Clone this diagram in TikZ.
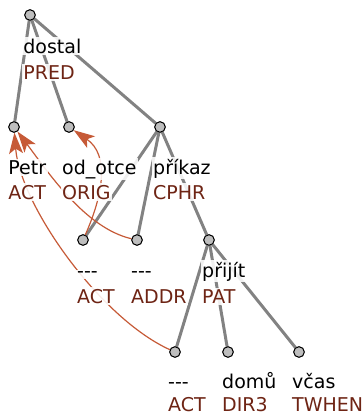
\documentclass[tikz,border=0pt]{standalone}
\usepackage{fontspec}
\setmainfont{DejaVu Sans}
\usetikzlibrary{arrows.meta}
\definecolor{edgegray}{RGB}{130,130,130}
\definecolor{nodegray}{RGB}{190,190,190}
\definecolor{functor}{RGB}{110,36,20}
\definecolor{coref}{RGB}{198,90,55}
\begin{document}
\begin{tikzpicture}[x=1pt,y=-1pt,
  tnode/.style={circle,draw=black,fill=nodegray,line width=0.9pt,minimum size=10.5pt,inner sep=0pt},
  edge/.style={edgegray,line width=3pt},
  corefarrow/.style={coref,line width=1.2pt,-{Stealth[length=21pt,width=14pt,inset=5pt]}},
  lbl/.style={anchor=base west,inner sep=1.5pt,fill=white,fill opacity=0.88,text opacity=1,font=\fontsize{19}{22}\selectfont},
  word/.style={lbl,text=black},
  func/.style={lbl,text=functor}]
\useasboundingbox (0,0) rectangle (364,415);
% tree nodes
\node[tnode] (dostal) at (30,15) {};
\node[tnode] (petr) at (14,127) {};
\node[tnode] (odotce) at (69,127) {};
\node[tnode] (prikaz) at (160,127) {};
\node[tnode] (actgen) at (83,240) {};
\node[tnode] (addr) at (137,240) {};
\node[tnode] (prijit) at (209,240) {};
\node[tnode] (actbot) at (175,352) {};
\node[tnode] (domu) at (228,352) {};
\node[tnode] (vcas) at (299,352) {};
% edges
\draw[edge] (dostal.center) -- (petr.center);
\draw[edge] (dostal.center) -- (odotce.center);
\draw[edge] (dostal.center) -- (prikaz.center);
\draw[edge] (prikaz.center) -- (actgen.center);
\draw[edge] (prikaz.center) -- (addr.center);
\draw[edge] (prikaz.center) -- (prijit.center);
\draw[edge] (prijit.center) -- (actbot.center);
\draw[edge] (prijit.center) -- (domu.center);
\draw[edge] (prijit.center) -- (vcas.center);
% coreference arrows
\draw[corefarrow] (actgen) .. controls (103,195) and (110,155) .. (odotce);
\draw[corefarrow] (addr) .. controls (85,228) and (48,172) .. (petr);
\draw[corefarrow] (actbot) .. controls (100,318) and (20,205) .. (petr);
% redraw node circles on top
\foreach \n in {dostal,petr,odotce,prikaz,actgen,addr,prijit,actbot,domu,vcas}
  \node[tnode] at (\n.center) {};
% labels
\node[word] (l1) at (21.7,53) {dostal};
\node[func] (f1) at (21.7,79) {PRED};
\node[word] (l2) at (6.7,174) {Petr};
\node[func] (f2) at (6.7,199) {ACT};
\node[word] (l3) at (60.5,174) {od\_otce};
\node[func] (f3) at (60.5,199) {ORIG};
\node[word] (l4) at (151.5,174) {příkaz};
\node[func] (f4) at (151.5,199) {CPHR};
\node[word] (l5) at (75.5,277) {-{}-{}-};
\node[func] (f5) at (75.5,303) {ACT};
\node[word] (l6) at (129.5,277) {-{}-{}-};
\node[func] (f6) at (129.5,303) {ADDR};
\node[word] (l7) at (200.5,277) {přijít};
\node[func] (f7) at (200.5,303) {PAT};
\node[word] (l8) at (166.5,388) {-{}-{}-};
\node[func] (f8) at (166.5,411) {ACT};
\node[word] (l9) at (220.5,388) {domů};
\node[func] (f9) at (220.5,411) {DIR3};
\node[word] (l10) at (290.5,388) {včas};
\node[func] (f10) at (290.5,411) {TWHEN};
\end{tikzpicture}
\end{document}
